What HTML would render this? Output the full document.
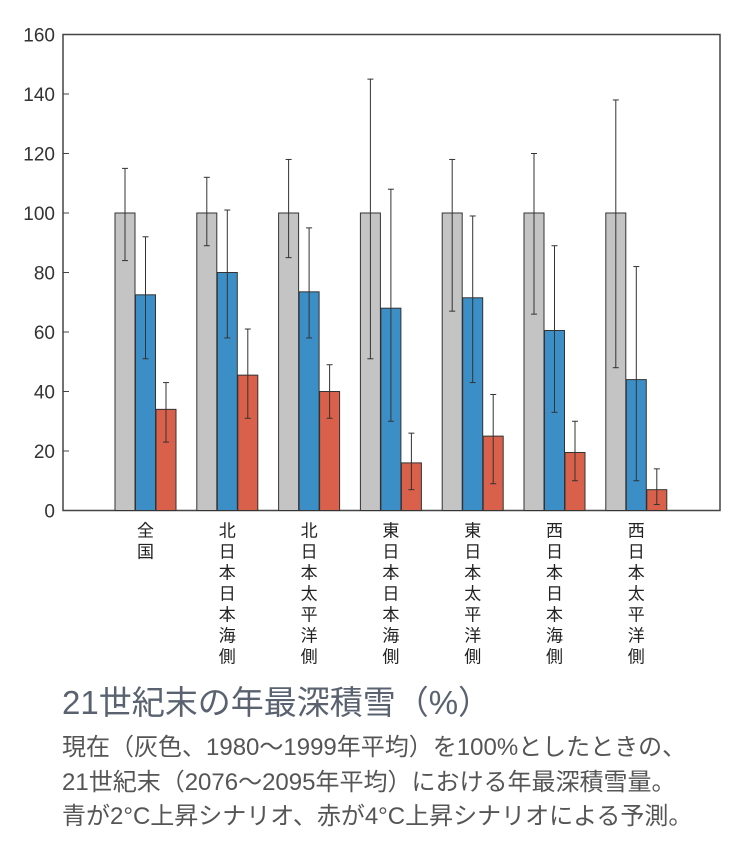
<!DOCTYPE html>
<html><head><meta charset="utf-8"><style>
body{margin:0;background:#fff;width:735px;height:853px;overflow:hidden;font-family:"Liberation Sans","Noto Sans CJK JP",sans-serif}
svg{position:absolute;left:0;top:0}
.t{position:absolute;left:62px;color:#555;white-space:nowrap}
</style></head><body>
<svg width="735" height="670" id="chart"></svg>
<div class="t" style="top:676px;font-size:33px;color:#5a6270">21世紀末の年最深積雪（%）</div>
<div class="t" style="top:731px;font-size:24px;line-height:34.5px;color:#555">現在（灰色、1980～1999年平均）を100%としたときの、<br>21世紀末（2076～2095年平均）における年最深積雪量。<br>青が2°C上昇シナリオ、赤が4°C上昇シナリオによる予測。</div>
<script>
const categories=["全国","北日本日本海側","北日本太平洋側","東日本日本海側","東日本太平洋側","西日本日本海側","西日本太平洋側"];
const grayVals=[100,100,100,100,100,100,100];
const grayLo=[84,89,85,51,67,66,48];
const grayHi=[115,112,118,145,118,120,138];
const blueVals=[72.5,80,73.5,68,71.5,60.5,44];
const blueLo=[51,58,58,30,43,33,10];
const blueHi=[92,101,95,108,99,89,82];
const redVals=[34,45.5,40,16,25,19.5,7];
const redLo=[23,31,31,7,9,10,2];
const redHi=[43,61,49,26,39,30,14];
const yTicks=[0,20,40,60,80,100,120,140,160];
const NS="http://www.w3.org/2000/svg";
const svg=document.getElementById('chart');
const L=63,R=720,T=34.5,B=510.5;
const y=v=>B-(v/160)*(B-T);
const gx=i=>125+i*81.8;
function mk(t,a){const e=document.createElementNS(NS,t);for(const k in a)e.setAttribute(k,a[k]);svg.appendChild(e);return e;}
let f=mk('rect',{x:L,y:T,width:R-L,height:B-T,fill:'none',stroke:'#444','stroke-width':1.5});


yTicks.forEach(v=>{
 let l=mk('line',{x1:L,x2:L+6,y1:y(v),y2:y(v),stroke:'#444'});
 
 
 let t=mk('text',{x:L-8,y:y(v)+7,'text-anchor':'end','font-size':19,fill:'#333'});
 t.textContent=v;
 
 
});
const series=[[grayVals,grayLo,grayHi,'#c4c4c4',0,'gray'],[blueVals,blueLo,blueHi,'#3c8fc6',20.5,'blue'],[redVals,redLo,redHi,'#d9604a',41,'red']];
categories.forEach((c,i)=>{
 series.forEach(s=>{
  const cx=gx(i)+s[4];
  let r=mk('rect',{x:cx-10,y:y(s[0][i]),width:20,height:B-y(s[0][i]),fill:s[3],stroke:'#333','stroke-width':1});
  
  
  let e=mk('line',{x1:cx,x2:cx,y1:y(s[1][i]),y2:y(s[2][i]),stroke:'#333','stroke-width':1});
  
  
  [s[1][i],s[2][i]].forEach(v=>{let cap=mk('line',{x1:cx-3,x2:cx+3,y1:y(v),y2:y(v),stroke:'#333'});
   
   });
 });
 [...c].forEach((ch,k)=>{
  let t=mk('text',{x:gx(i)+20.5,y:B+26+k*21,'text-anchor':'middle','font-size':17,fill:'#222'});
  t.textContent=ch;
  
  
 });
});
</script>
</body></html>
